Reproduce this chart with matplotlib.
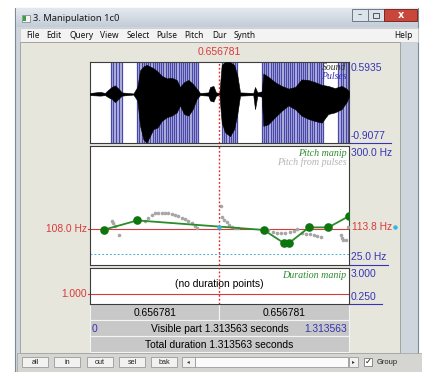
import matplotlib
matplotlib.use("Agg")
import matplotlib.pyplot as plt
from matplotlib.patches import Rectangle
import numpy as np

W, H = 422, 372

# ---- data -------------------------------------------------------------
T_END = 1.313563
CURSOR_T = 0.656781
RIGHT_SPAN = 0.656781
SOUND_MAX, SOUND_MIN = 0.5935, -0.9077
PITCH_TOP, PITCH_BOTTOM = 300.0, 25.0
PITCH_FLOOR = 50.0
CURSOR_HZ = 108.0
PITCH_AT_CURSOR = 113.8
DUR_TOP, DUR_BOTTOM = 3.000, 0.250
DUR_CURSOR = 1.000

# waveform envelope (time, upper, lower)
wave_t = [0.000, 0.051, 0.076, 0.093, 0.110, 0.127, 0.144, 0.161, 0.220, 0.240,
          0.254, 0.271, 0.287, 0.304, 0.321, 0.342, 0.363, 0.389, 0.414, 0.440,
          0.456, 0.477, 0.499, 0.521, 0.541, 0.558, 0.600, 0.609, 0.626, 0.639,
          0.656, 0.668, 0.685, 0.710, 0.731, 0.747, 0.761, 0.828, 0.837, 0.849,
          0.871, 0.879, 0.904, 0.938, 0.972, 1.006, 1.040, 1.073, 1.107, 1.141,
          1.175, 1.208, 1.242, 1.276, 1.301, 1.313]
wave_hi = [0.02, 0.04, 0.02, 0.08, 0.13, 0.16, 0.10, 0.03, 0.01, 0.13,
           0.44, 0.51, 0.54, 0.51, 0.48, 0.42, 0.34, 0.29, 0.30, 0.26,
           0.13, 0.22, 0.26, 0.19, 0.10, 0.02, 0.03, 0.13, 0.15, 0.03,
           0.02, 0.54, 0.59, 0.59, 0.54, 0.35, 0.03, 0.02, 0.13, 0.03,
           0.05, 0.38, 0.32, 0.22, 0.15, 0.10, 0.13, 0.27, 0.26, 0.22,
           0.17, 0.15, 0.11, 0.15, 0.10, 0.05]
wave_lo = [-0.02, -0.03, -0.02, -0.06, -0.09, -0.15, -0.09, -0.03, -0.01, -0.12,
           -0.59, -0.84, -0.90, -0.78, -0.65, -0.62, -0.50, -0.43, -0.40, -0.34,
           -0.21, -0.37, -0.40, -0.28, -0.09, -0.02, -0.03, -0.12, -0.14, -0.03,
           -0.02, -0.53, -0.71, -0.78, -0.65, -0.37, -0.03, -0.02, -0.28, -0.03,
           -0.05, -0.59, -0.56, -0.43, -0.31, -0.21, -0.28, -0.40, -0.46, -0.50,
           -0.53, -0.37, -0.34, -0.28, -0.15, -0.05]

# glottal pulse times (s), one list per voiced stretch
pulse_groups = [
    [0.105, 0.119, 0.133, 0.147, 0.160],
    [0.240, 0.251, 0.262, 0.273, 0.284, 0.295, 0.306, 0.317, 0.328, 0.339,
     0.350, 0.361, 0.372, 0.383, 0.394, 0.405, 0.416, 0.427, 0.438, 0.449,
     0.460, 0.471, 0.482, 0.493, 0.504, 0.515, 0.526, 0.537, 0.548],
    [0.668, 0.680, 0.692, 0.703, 0.714, 0.726, 0.737, 0.748],
    [0.871, 0.882, 0.893, 0.904, 0.916, 0.927, 0.938, 0.949, 0.960, 0.971,
     0.982, 0.993, 1.004, 1.015, 1.026, 1.037, 1.048, 1.059, 1.070, 1.081,
     1.092, 1.103, 1.114, 1.126, 1.137, 1.149, 1.160, 1.171, 1.183],
    [1.259, 1.272, 1.285, 1.298, 1.310],
]

# pitch from pulses (grey dots)
pp_t = [0.110, 0.118, 0.127, 0.149,
        0.279, 0.296, 0.313, 0.330, 0.347, 0.363, 0.380, 0.397, 0.414, 0.431,
        0.448, 0.465, 0.482, 0.499, 0.516, 0.533, 0.544,
        0.663, 0.668, 0.680, 0.693, 0.707, 0.720, 0.735, 0.750,
        0.904, 0.926, 0.946, 0.968, 0.990, 1.012, 1.034, 1.051, 1.073, 1.095,
        1.116, 1.136, 1.153, 1.170, 1.271, 1.280, 1.285, 1.296, 1.307]
pp_hz = [127.5, 122.2, 115.9, 94.9,
         126.0, 133.8, 140.7, 144.6, 146.2, 146.2, 146.2, 145.4, 143.9, 140.7,
         137.6, 134.5, 131.4, 127.5, 122.1, 115.9, 110.5,
         160.9, 136.1, 129.9, 123.6, 117.4, 113.6, 111.3, 109.7,
         105.0, 101.9, 99.6, 98.8, 99.6, 101.1, 103.5, 108.1, 98.8, 96.5,
         95.7, 94.1, 91.0, 89.5, 94.9, 88.0, 83.3, 83.3, 112.8]

# pitch manipulation points
pm_t = [0.071, 0.240, 0.881, 0.984, 1.009, 1.111, 1.209, 1.312]
pm_hz = [106.6, 128.0, 106.0, 75.6, 75.6, 111.9, 111.9, 137.6]

menu_items = ["File", "Edit", "Query", "View", "Select", "Pulse", "Pitch", "Dur", "Synth"]
menu_x = [26, 46, 69, 100, 127, 156, 184, 212, 234]
buttons = ["all", "in", "out", "sel", "bak"]
button_x = [22, 54, 87, 119, 151]

# ---- colours / fonts --------------------------------------------------
SANS = "Liberation Sans"
SERIF = "Liberation Serif"
UI = "Noto Sans"
BLUE = "#3434b4"
RED = "#d83a3a"
GREEN_DOT = "#0e760e"
GREEN_LINE = "#2a8c2a"

fig = plt.figure(figsize=(W / 100, H / 100), dpi=100, facecolor="white")

bg = fig.add_axes([0, 0, 1, 1])
bg.set_xlim(0, W)
bg.set_ylim(H, 0)
bg.axis("off")


def rect(x, y, w, h, fc, ec="none", lw=0.8, z=1):
    bg.add_patch(Rectangle((x, y), w, h, facecolor=fc, edgecolor=ec, linewidth=lw, zorder=z))


def px_axes(x0, y0, x1, y1):
    return fig.add_axes([x0 / W, 1 - y1 / H, (x1 - x0) / W, (y1 - y0) / H])


# window frame and title bar
rect(15, 8, 403, 364, "#cfd5dc", "#7d8995", 0.8, 1)
grad = np.linspace(0, 1, 20).reshape(-1, 1)
bg.imshow(grad, cmap=matplotlib.colors.LinearSegmentedColormap.from_list("tb", ["#e4e9ef", "#c3cdd8"]),
          extent=(15.5, 417.5, 27, 8.5), aspect="auto", zorder=2)
bg.set_xlim(0, W)
bg.set_ylim(H, 0)
rect(22, 15, 8, 7, "#f4f4f4", "#7a7a7a", 0.5, 3)
rect(23, 16, 2.5, 5, "#3aa040", "none", 0, 4)
bg.text(33, 18.5, "3. Manipulation 1c0", fontsize=6.8, family=UI, color="#1a1a1a",
        va="center", ha="left", zorder=4)
rect(352, 9, 16, 12, "#dde3ea", "#6c7987", 0.7, 3)
bg.text(360, 15, "–", fontsize=6, color="#444", ha="center", va="center", zorder=4)
rect(368, 9, 16, 12, "#dde3ea", "#6c7987", 0.7, 3)
rect(373, 12.5, 6, 5, "none", "#555", 0.7, 4)
rect(384, 9, 33, 12, "#c8463a", "#7a2a22", 0.7, 3)
bg.text(400.5, 15, "x", fontsize=7, color="white", ha="center", va="center",
        fontweight="bold", zorder=4)

# menu bar
rect(20, 27.5, 397.5, 14.5, "#f3f3f3", "#c8c8c8", 0.5, 3)
for name, x in zip(menu_items, menu_x):
    bg.text(x, 35, name, fontsize=6.0, family=UI, color="#111", ha="left", va="center", zorder=4)
bg.text(413, 35, "Help", fontsize=6.0, family=UI, color="#111", ha="right", va="center", zorder=4)

# client area
rect(20, 42, 380, 311, "#e7e6dd", "#9a9a9a", 0.6, 3)

# bottom button bar
rect(17, 353, 405, 19, "#d5d5d1", "#a0a0a0", 0.5, 3)
for name, x in zip(buttons, button_x):
    rect(x, 357, 26, 10, "#f2f2f0", "#9a9a9a", 0.6, 4)
    bg.text(x + 13, 362, name, fontsize=5.2, family=SANS, color="#222",
            ha="center", va="center", zorder=5)
rect(182, 357, 13, 10, "#f2f2f0", "#9a9a9a", 0.6, 4)
bg.text(188.5, 362, "◂", fontsize=4, color="#333", ha="center", va="center", zorder=5)
rect(195, 357, 153, 10, "#fbfbfb", "#9a9a9a", 0.6, 4)
rect(349, 357, 9, 10, "#f2f2f0", "#9a9a9a", 0.6, 4)
bg.text(353.5, 362, "▸", fontsize=4, color="#333", ha="center", va="center", zorder=5)
rect(364, 357.5, 8, 8, "white", "#7a7a7a", 0.6, 4)
bg.text(368, 361.5, "✓", fontsize=6, color="#111", ha="center", va="center", zorder=5)
bg.text(377, 362, "Group", fontsize=5.4, family=SANS, color="#222", ha="left", va="center", zorder=5)

# time table under the panels
PX0, PX1 = 90, 349
xc = PX0 + (PX1 - PX0) * CURSOR_T / T_END
rect(PX0, 304, xc - PX0, 16, "#c8c8c8", "#f4f4f4", 0.8, 4)
rect(xc, 304, PX1 - xc, 16, "#c8c8c8", "#f4f4f4", 0.8, 4)
rect(PX0, 320, PX1 - PX0, 16, "#c8c8c8", "#f4f4f4", 0.8, 4)
rect(PX0, 336, PX1 - PX0, 16, "#c8c8c8", "#f4f4f4", 0.8, 4)
tfs = 7.4
bg.text((PX0 + xc) / 2, 312.5, f"{CURSOR_T:.6f}", fontsize=tfs, family=SANS,
        ha="center", va="center", zorder=5)
bg.text((xc + PX1) / 2, 312.5, f"{RIGHT_SPAN:.6f}", fontsize=tfs, family=SANS,
        ha="center", va="center", zorder=5)
bg.text(92, 328.5, "0", fontsize=tfs, family=SANS, color=BLUE, ha="left", va="center", zorder=5)
bg.text((PX0 + PX1) / 2, 328.5, f"Visible part {T_END:.6f} seconds", fontsize=tfs,
        family=SANS, ha="center", va="center", zorder=5)
bg.text(347.5, 328.5, f"{T_END:.6f}", fontsize=tfs, family=SANS, color=BLUE,
        ha="right", va="center", zorder=5)
bg.text((PX0 + PX1) / 2, 344.5, f"Total duration {T_END:.6f} seconds", fontsize=tfs,
        family=SANS, ha="center", va="center", zorder=5)

# cursor time above the panels
bg.text(xc, 52, f"{CURSOR_T:.6f}", fontsize=7.5, family=SANS, color=RED,
        ha="center", va="center", zorder=5)

# right-hand range labels with underlines at panel bottoms
lfs = 7.4
bg.text(351, 68, f"{SOUND_MAX:.4f}", fontsize=lfs, family=SANS, color=BLUE, va="center", zorder=5)
bg.text(351, 136, f"{SOUND_MIN:.4f}", fontsize=lfs, family=SANS, color=BLUE, va="center", zorder=5)
bg.plot([349, 391], [142.5, 142.5], color=BLUE, lw=0.8, zorder=5)
bg.text(351, 153, f"{PITCH_TOP:.1f} Hz", fontsize=lfs, family=SANS, color=BLUE, va="center", zorder=5)
bg.text(351, 257, f"{PITCH_BOTTOM:.1f} Hz", fontsize=lfs, family=SANS, color=BLUE, va="center", zorder=5)
bg.plot([349, 388], [264.5, 264.5], color=BLUE, lw=0.8, zorder=5)
bg.text(351, 274, f"{DUR_TOP:.3f}", fontsize=lfs, family=SANS, color=BLUE, va="center", zorder=5)
bg.text(351, 297, f"{DUR_BOTTOM:.3f}", fontsize=lfs, family=SANS, color=BLUE, va="center", zorder=5)
bg.plot([349, 382], [303.5, 303.5], color=BLUE, lw=0.8, zorder=5)

# ---- data panels ------------------------------------------------------
ax_s = px_axes(90, 62, 349, 143)
ax_p = px_axes(90, 146, 349, 265)
ax_d = px_axes(90, 268, 349, 304)
for ax in (ax_s, ax_p, ax_d):
    ax.set_xlim(0, T_END)
    ax.set_xticks([])
    ax.set_yticks([])
    ax.set_facecolor("white")
    for sp in ax.spines.values():
        sp.set_color("#3c3c3c")
        sp.set_linewidth(0.8)
    ax.axvline(CURSOR_T, color="#e02828", lw=1.0, ls=(0, (1.3, 1.5)), zorder=6)

# sound + pulses
ax_s.set_ylim(SOUND_MIN, SOUND_MAX)
for grp in pulse_groups:
    ax_s.axvspan(grp[0], grp[-1], color="#b9b9df", lw=0, zorder=0.5)
    ax_s.vlines(grp, SOUND_MIN, SOUND_MAX, color="#4848ac", lw=0.9, zorder=1)
ax_s.axhline(0, color="#222", lw=0.6, zorder=2)
ax_s.fill_between(wave_t, wave_lo, wave_hi, color="black", lw=0.4, zorder=3)
ax_s.text(0.99, 0.93, "Sound", transform=ax_s.transAxes, fontsize=7, family=SERIF,
          style="italic", color="#333", ha="right", va="center", zorder=7)
ax_s.text(0.99, 0.82, "Pulses", transform=ax_s.transAxes, fontsize=7, family=SERIF,
          style="italic", color="#3030b0", ha="right", va="center", zorder=7)

# pitch
ax_p.set_ylim(PITCH_BOTTOM, PITCH_TOP)
ax_p.axhline(PITCH_FLOOR, color="#46b0e0", lw=0.7, ls=(0, (2, 2)), zorder=1)
ax_p.plot([-2 / 259, 1], [CURSOR_HZ, CURSOR_HZ], transform=ax_p.get_yaxis_transform(),
          color=RED, lw=0.8, clip_on=False, zorder=2)
ax_p.text(-3 / 259, CURSOR_HZ, f"{CURSOR_HZ:.1f} Hz", transform=ax_p.get_yaxis_transform(),
          fontsize=lfs, family=SANS, color=RED, ha="right", va="center", clip_on=False)
ax_p.text(1 + 3 / 259, PITCH_AT_CURSOR, f"{PITCH_AT_CURSOR:.1f} Hz",
          transform=ax_p.get_yaxis_transform(), fontsize=lfs, family=SANS, color=RED,
          ha="left", va="center", clip_on=False)
ax_p.plot([1 + 46 / 259], [PITCH_AT_CURSOR], transform=ax_p.get_yaxis_transform(),
          marker="o", ms=2.2, color="#30b8e0", clip_on=False)
ax_p.plot(pp_t, pp_hz, ls="none", marker="o", ms=2.6, color="#a6a6a6", mew=0, zorder=3)
ax_p.plot(pm_t, pm_hz, color=GREEN_LINE, lw=1.3, zorder=4)
ax_p.plot(pm_t, pm_hz, ls="none", marker="o", ms=6.2, color=GREEN_DOT, mew=0, zorder=5)
ax_p.plot([CURSOR_T], [PITCH_AT_CURSOR], marker="o", ms=2.2, color="#30b8e0", zorder=7)
ax_p.text(0.99, 0.94, "Pitch manip", transform=ax_p.transAxes, fontsize=7.2, family=SERIF,
          style="italic", color="#2e8a2e", ha="right", va="center", zorder=7)
ax_p.text(0.99, 0.865, "Pitch from pulses", transform=ax_p.transAxes, fontsize=7.2,
          family=SERIF, style="italic", color="#b4b4b4", ha="right", va="center", zorder=7)

# duration
ax_d.set_ylim(DUR_BOTTOM, DUR_TOP)
ax_d.plot([-2 / 259, 1], [DUR_CURSOR, DUR_CURSOR], transform=ax_d.get_yaxis_transform(),
          color=RED, lw=0.8, clip_on=False, zorder=2)
ax_d.text(-3 / 259, DUR_CURSOR, f"{DUR_CURSOR:.3f}", transform=ax_d.get_yaxis_transform(),
          fontsize=lfs, family=SANS, color=RED, ha="right", va="center", clip_on=False)
ax_d.text(0.5, 0.55, "(no duration points)", transform=ax_d.transAxes, fontsize=7.4,
          family=SANS, ha="center", va="center", zorder=7)
ax_d.text(0.99, 0.8, "Duration manip", transform=ax_d.transAxes, fontsize=7.2, family=SERIF,
          style="italic", color="#2e8a2e", ha="right", va="center", zorder=7)

fig.savefig("out.png", dpi=100, facecolor="white")
